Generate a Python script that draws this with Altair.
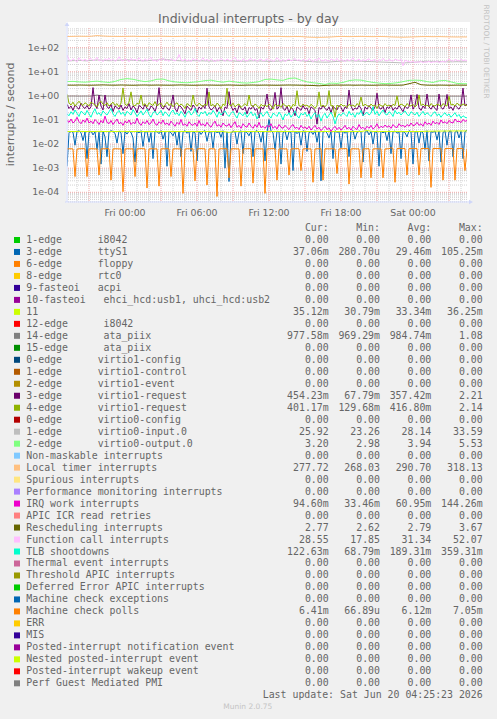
import json
import altair as alt
import pandas as pd

# ---------------- text ----------------
TITLE = "Individual interrupts - by day"
Y_TITLE = "interrupts / second"
WATERMARK = "RRDTOOL / TOBI OETIKER"
LAST_UPDATE = "Last update: Sat Jun 20 04:25:23 2026"
MUNIN = "Munin 2.0.75"
X_TICK_MIN = [0, 360, 720, 1080, 1440]
X_TICK_LABELS = ["Fri 00:00", "Fri 06:00", "Fri 12:00", "Fri 18:00", "Sat 00:00"]
Y_TICKS = [1e-4, 1e-3, 1e-2, 1e-1, 1e0, 1e1, 1e2]
Y_TICK_LABELS = ["1e-04", "1e-03", "1e-02", "1e-01", "1e+00", "1e+01", "1e+02"]
HEADERS = ["Cur:  ", "Min:  ", "Avg:  ", "Max:  "]

# time in minutes relative to Fri 00:00
T10 = list(range(-290, 1711, 10))
T30 = list(range(-290, 1721, 30))

# ---------------- series (10-min samples) ----------------
TTYS1_m = [1.2, 28, 34, 31, 9, 33, 36, 30, 14, 32,
           2.5, 30, 35, 24, 33, 6, 31, 1.5, 34, 20,
           3.0, 32, 36, 33, 28, 11, 35, 30, 4.0, 33,
           26, 35, 31, 18, 1.8, 34, 29, 36, 8, 32,
           34, 12, 30, 2.5, 35, 33, 27, 36, 16, 31,
           1.2, 34, 30, 22, 35, 9, 33, 3, 31, 36,
           28, 34, 5, 33, 30, 2.0, 35, 25, 33, 36,
           13, 31, 34, 7, 35, 30, 33, 19, 36, 1.0,
           32, 0.2807, 27, 35, 33, 10, 31, 36, 4, 34,
           30, 22, 35, 3, 33, 36, 28, 12, 34, 2.0,
           31, 105.25, 35, 30, 6, 34, 33, 1.5, 29, 36,
           15, 33, 31, 0.8, 35, 27, 34, 9, 36, 32,
           5, 30, 34, 25, 36, 12, 33, 0.3, 31, 35,
           29, 18, 34, 2.5, 36, 31, 33, 7, 35, 28,
           34, 3, 32, 36, 16, 30, 35, 33, 1.8, 31,
           36, 24, 34, 10, 33, 30, 1.2, 35, 29, 34,
           14, 36, 4, 32, 35, 28, 33, 2.5, 34, 30,
           20, 36, 33, 1.5, 31, 35, 11, 34, 29, 6,
           36, 2.0, 33, 31, 35, 15, 34, 1.8, 30, 36,
           9, 33, 35, 3, 31, 36, 18, 34, 2.5, 33,
           37.06]

VREQ3_m = [450, 300, 380, 250, 420, 330, 280, 500, 350, 300,
           400, 280, 350, 2210, 420, 300, 1090, 380, 260, 1090,
           350, 300, 450, 220, 380, 330, 280, 420, 250, 350,
           300, 480, 260, 380, 320, 200, 400, 350, 280, 450,
           300, 250, 380, 330, 220, 420, 2200, 350, 280, 400,
           320, 250, 380, 1090, 300, 220, 400, 350, 260, 180,
           380, 300, 250, 420, 330, 200, 350, 280, 400, 300,
           2100, 350, 260, 300, 400, 220, 330, 280, 150, 350,
           300, 1500, 380, 250, 320, 200, 400, 300, 260, 350,
           180, 330, 280, 400, 250, 300, 120, 350, 280, 400,
           1200, 300, 250, 380, 1400, 280, 350, 2200, 300, 250,
           380, 200, 330, 280, 150, 350, 300, 250, 400, 280,
           320, 180, 350, 300, 250, 67.79, 330, 280, 400, 300,
           250, 350, 200, 380, 300, 260, 400, 330, 220, 350,
           300, 1760, 380, 250, 320, 280, 400, 300, 150, 350,
           280, 400, 300, 250, 350, 1300, 320, 280, 380, 200,
           350, 300, 420, 250, 330, 280, 400, 300, 220, 380,
           300, 350, 1100, 280, 400, 1150, 320, 250, 380, 300,
           1200, 350, 280, 400, 300, 250, 1200, 330, 280, 400,
           1150, 300, 350, 250, 420, 330, 280, 400, 2100, 380,
           454.23]

VREQ4_m = [1170, 500, 420, 550, 380, 480, 600, 450, 400, 520,
           450, 380, 550, 480, 420, 350, 500, 600, 450, 400,
           520, 380, 460, 550, 400, 480, 350, 500, 2140, 450,
           400, 550, 1470, 420, 380, 500, 450, 1090, 400, 480,
           350, 520, 450, 400, 580, 380, 460, 500, 350, 420,
           550, 400, 480, 350, 450, 520, 380, 460, 400, 300,
           480, 420, 350, 1090, 450, 380, 500, 420, 360, 460,
           400, 1470, 380, 450, 350, 500, 420, 300, 460, 400,
           2100, 450, 380, 500, 350, 420, 460, 330, 400, 480,
           380, 1090, 420, 350, 460, 400, 300, 450, 380, 420,
           350, 460, 400, 280, 450, 380, 420, 330, 480, 400,
           360, 420, 300, 450, 380, 1650, 400, 350, 460, 380,
           420, 330, 450, 380, 300, 400, 1470, 360, 420, 350,
           450, 1650, 380, 400, 129.68, 420, 350, 460, 380, 400,
           330, 450, 380, 420, 350, 480, 400, 900, 380, 450,
           400, 350, 460, 380, 420, 300, 450, 400, 360, 480,
           380, 420, 350, 450, 400, 1000, 380, 460, 420, 350,
           480, 400, 380, 450, 350, 420, 1100, 400, 460, 380,
           420, 350, 480, 400, 380, 450, 420, 360, 480, 400,
           380, 950, 420, 450, 380, 500, 420, 400, 460, 420,
           401.17]

IRQWORK_m = [95, 80, 110, 75, 90, 130, 85, 70, 100, 80,
             120, 75, 90, 70, 105, 85, 65, 95, 75, 144.26,
             80, 70, 95, 65, 85, 110, 70, 80, 60, 90,
             75, 100, 65, 80, 70, 120, 75, 60, 85, 70,
             95, 65, 75, 110, 70, 60, 85, 70, 100, 65,
             75, 60, 90, 70, 55, 80, 65, 105, 60, 70,
             55, 85, 65, 60, 75, 55, 95, 60, 70, 55,
             80, 60, 50, 70, 90, 55, 65, 50, 75, 60,
             55, 70, 48, 65, 85, 50, 60, 45, 70, 55,
             50, 75, 55, 45, 65, 50, 80, 48, 55, 45,
             60, 50, 70, 45, 55, 42, 65, 50, 45, 60,
             48, 40, 55, 65, 45, 50, 40, 60, 45, 52,
             42, 55, 38, 48, 60, 42, 50, 36, 45, 55,
             40, 48, 33.46, 45, 55, 40, 50, 38, 46, 60,
             42, 50, 38, 55, 45, 40, 65, 44, 50, 40,
             55, 45, 60, 42, 50, 70, 45, 55, 48, 62,
             50, 58, 45, 65, 52, 48, 70, 55, 60, 50,
             65, 55, 75, 58, 62, 80, 60, 70, 55, 85,
             65, 75, 60, 90, 70, 80, 65, 100, 75, 85,
             70, 95, 80, 75, 110, 85, 90, 78, 105, 88,
             94.60]

CALL = [50, 32, 28, 35, 30, 26, 38, 31, 29, 34,
        27, 33, 36, 29, 31, 40, 28, 32, 26, 35,
        30, 37, 29, 33, 27, 31, 42, 30, 28, 34,
        32, 26, 36, 30, 33, 28, 38, 31, 27, 35,
        29, 33, 40, 28, 31, 26, 34, 30, 37, 29,
        32, 27, 35, 30, 28, 33, 52.07, 31, 29, 34,
        28, 32, 26, 36, 30, 33, 27, 31, 38, 29,
        33, 28, 35, 30, 26, 32, 29, 36, 31, 27,
        34, 30, 28, 33, 40, 29, 31, 26, 35, 30,
        28, 32, 36, 29, 33, 27, 31, 34, 28, 30,
        35, 29, 32, 27, 30, 38, 31, 28, 33, 26,
        31, 34, 28, 30, 36, 29, 32, 27, 33, 30,
        28, 35, 31, 26, 33, 29, 37, 30, 28, 32,
        30, 27, 34, 31, 29, 36, 28, 32, 30, 26,
        33, 29, 31, 38, 28, 30, 34, 27, 32, 29,
        31, 35, 28, 30, 33, 26, 32, 29, 36, 30,
        28, 32, 30, 27, 34, 31, 29, 33, 17.85, 30,
        28, 26, 25, 27, 24, 26, 25, 27, 24, 26,
        25, 27, 24, 26, 25, 28, 24, 26, 27, 25,
        29, 34, 30, 27, 32, 30, 28, 33, 29, 31,
        28.55]

TLB_m = [180, 150, 220, 170, 260, 190, 140, 230, 200, 160,
         250, 180, 130, 210, 290, 170, 200, 150, 240, 190,
         160, 220, 300, 180, 140, 200, 250, 170, 210, 150,
         230, 190, 160, 270, 200, 140, 180, 240, 160, 210,
         280, 170, 130, 200, 230, 160, 190, 250, 150, 220,
         180, 140, 210, 260, 170, 200, 150, 230, 180, 130,
         200, 240, 160, 190, 300, 170, 140, 210, 180, 230,
         150, 200, 170, 250, 190, 130, 220, 160, 200, 240,
         170, 140, 190, 230, 160, 120, 200, 180, 150, 210,
         130, 170, 220, 150, 190, 110, 160, 200, 140, 180,
         230, 150, 120, 190, 170, 140, 210, 160, 100, 180,
         150, 200, 130, 170, 240, 150, 120, 190, 160, 210,
         140, 180, 110, 160, 200, 130, 170, 90, 150, 190,
         120, 160, 210, 140, 68.79, 130, 180, 150, 200, 170,
         140, 230, 160, 190, 130, 200, 170, 250, 150, 180,
         210, 160, 190, 359.31, 170, 230, 150, 200, 260, 180,
         160, 220, 190, 140, 250, 180, 210, 160, 200, 240,
         170, 150, 220, 190, 160, 210, 140, 180, 230, 160,
         200, 170, 140, 190, 220, 150, 180, 130, 170, 200,
         150, 180, 130, 160, 200, 140, 170, 120, 150, 130,
         122.63]

MCP_m = [6.3, 6.4, 6.4, 6.3, 0.45, 6.2, 6.4, 6.4, 6.5, 6.4,
         0.45, 6.3, 6.4, 6.4, 6.3, 6.4, 0.52, 6.3, 6.4, 6.4,
         6.5, 6.4, 0.32, 6.3, 6.4, 6.4, 6.3, 6.4, 0.106, 6.2,
         6.4, 6.4, 6.3, 6.4, 0.45, 6.3, 6.4, 6.5, 6.4, 6.4,
         0.15, 6.3, 6.4, 6.4, 6.3, 6.4, 0.18, 6.3, 6.4, 6.4,
         6.5, 6.4, 0.45, 6.3, 6.4, 6.4, 6.3, 6.4, 0.09, 6.2,
         6.4, 6.4, 6.3, 6.4, 0.30, 6.3, 6.4, 6.5, 6.4, 6.4,
         0.20, 6.3, 6.4, 6.4, 6.3, 0.06689, 6.3, 6.4, 6.4, 6.5,
         6.4, 0.40, 6.3, 6.4, 6.4, 6.3, 6.4, 0.18, 6.3, 6.4,
         6.4, 6.5, 6.4, 0.24, 6.3, 6.4, 6.4, 6.3, 6.4, 0.09,
         6.3, 6.4, 6.4, 6.5, 6.4, 0.32, 6.3, 6.4, 6.4, 6.3,
         6.4, 0.52, 6.3, 6.4, 6.4, 6.5, 6.4, 0.80, 6.3, 6.4,
         6.4, 6.3, 6.4, 0.26, 6.3, 6.4, 6.4, 6.5, 0.32, 6.4,
         6.4, 6.3, 6.4, 6.4, 6.3, 0.60, 6.3, 6.4, 6.4, 6.5,
         6.4, 0.22, 6.3, 6.4, 6.4, 6.3, 6.4, 0.40, 6.3, 6.4,
         6.4, 6.5, 0.40, 6.3, 6.4, 6.4, 6.3, 6.4, 0.40, 6.3,
         6.4, 6.4, 7.05, 6.6, 0.26, 6.5, 6.6, 6.6, 6.5, 6.6,
         0.52, 6.5, 6.6, 6.6, 6.5, 6.6, 0.52, 6.5, 6.6, 6.6,
         6.6, 6.5, 0.16, 6.6, 6.6, 6.5, 6.6, 6.6, 0.32, 6.5,
         6.6, 6.6, 6.5, 6.6, 0.32, 6.6, 6.5, 6.6, 6.6, 0.80,
         6.41]

# ---------------- series (30-min samples) ----------------
IRQ11_m = [33.5, 33.2, 33.6, 33.4, 33.1, 33.7, 33.3, 33.5, 33.2, 33.8,
           33.4, 33.1, 33.6, 33.3, 33.5, 33.0, 33.4, 33.7, 33.2, 33.5,
           33.3, 33.6, 33.1, 33.4, 33.2, 33.5, 33.3, 30.79, 33.4, 33.6,
           33.2, 33.5, 33.3, 33.1, 33.4, 33.6, 33.2, 33.5, 33.3, 33.0,
           33.4, 33.2, 33.5, 33.3, 33.6, 33.1, 33.4, 33.2, 33.5, 33.3,
           36.25, 33.4, 33.2, 33.5, 33.3, 33.6, 33.1, 33.4, 33.2, 33.5,
           34.0, 34.3, 34.6, 34.8, 35.0, 35.1, 35.0, 35.12]

ATA14_m = [985, 990, 982, 988, 984, 1080, 992, 986, 983, 987,
           985, 990, 982, 984, 988, 986, 983, 985, 989, 984,
           982, 986, 988, 983, 985, 987, 982, 984, 986, 989,
           983, 985, 981, 987, 984, 986, 982, 985, 988, 983,
           980, 975, 969.29, 974, 982, 986, 984, 987, 983, 985,
           982, 980, 984, 986, 983, 981, 985, 990, 995, 986,
           983, 981, 984, 982, 980, 979, 978, 977.58]

V0IN = [28, 29, 30, 28.5, 29.5, 31, 30, 28.8, 29.2, 30.5,
        31.5, 30, 29, 28.5, 29.8, 31, 33.59, 31.5, 29.5, 28.5,
        28, 29, 28.6, 28.2, 27.8, 28.4, 29, 28.5, 27.6, 27.2,
        27.8, 28.5, 28, 27.4, 27, 27.5, 28.2, 29.5, 30, 28.5,
        27, 26.2, 25.5, 25, 25.8, 27, 28, 28.6, 28, 27.5,
        26.8, 26.2, 25.6, 25, 24.5, 24, 23.26, 24, 25, 26.5,
        27.2, 27, 26.5, 26, 25.8, 26.2, 26, 25.92]

V0OUT = [3.9, 4.0, 3.8, 3.7, 3.9, 4.1, 3.8, 3.6, 4.0, 4.8,
         5.2, 4.9, 4.3, 3.9, 4.2, 4.9, 5.0, 4.2, 3.8, 3.6,
         3.5, 3.7, 3.9, 4.3, 4.5, 4.0, 3.7, 4.1, 3.8, 3.5,
         3.4, 3.6, 3.9, 4.8, 5.0, 4.6, 4.4, 5.3, 5.53, 4.5,
         3.8, 3.5, 3.3, 2.98, 3.4, 3.3, 3.6, 4.3, 4.6, 4.5,
         4.0, 3.6, 3.4, 3.2, 3.3, 3.5, 3.9, 4.4, 4.5, 4.4,
         3.9, 3.6, 4.2, 4.4, 3.8, 3.3, 3.2, 3.2]

LOCAL = [292, 295, 300, 296, 298, 318.13, 305, 296, 294, 292,
         295, 298, 293, 291, 296, 300, 297, 293, 290, 295,
         298, 294, 291, 296, 293, 290, 295, 292, 289, 294,
         291, 288, 293, 290, 292, 295, 290, 287, 292, 289,
         276, 270, 268.03, 272, 278, 290, 293, 288, 291, 294,
         290, 287, 292, 289, 280, 275, 272, 276, 282, 288,
         290, 286, 289, 284, 280, 278, 279, 277.72]

RESCHED = [2.80, 2.78, 2.82, 2.79, 2.77, 2.81, 2.85, 2.80, 2.78, 2.83,
           2.79, 2.76, 2.80, 2.82, 2.78, 2.81, 2.79, 2.77, 2.80, 2.84,
           2.79, 2.76, 2.78, 2.81, 2.80, 2.77, 2.79, 2.82, 2.78, 2.75,
           2.79, 2.81, 2.77, 2.80, 2.78, 2.76, 2.79, 2.82, 2.80, 2.77,
           2.74, 2.70, 2.62, 2.72, 2.78, 2.80, 2.79, 2.81, 2.77, 2.80,
           2.78, 2.76, 2.79, 2.81, 2.78, 2.77, 2.80, 3.20, 3.67, 2.90,
           2.79, 2.77, 2.80, 2.78, 2.76, 2.79, 2.78, 2.77]

# drawing order = munin field order
PLOT_SERIES = [
    ("3-edge ttyS1", "#0066B3", T10, TTYS1_m, 1e-3),
    ("11", "#CCFF00", T30, IRQ11_m, 1e-3),
    ("14-edge ata_piix", "#808080", T30, ATA14_m, 1e-3),
    ("3-edge virtio1-request", "#6B006B", T10, VREQ3_m, 1e-3),
    ("4-edge virtio1-request", "#8FB300", T10, VREQ4_m, 1e-3),
    ("1-edge virtio0-input.0", "#BEBEBE", T30, V0IN, 1.0),
    ("2-edge virtio0-output.0", "#80FF80", T30, V0OUT, 1.0),
    ("Local timer interrupts", "#FFC080", T30, LOCAL, 1.0),
    ("IRQ work interrupts", "#EE00CC", T10, IRQWORK_m, 1e-3),
    ("Rescheduling interrupts", "#666600", T30, RESCHED, 1.0),
    ("Function call interrupts", "#FFBFFF", T10, CALL, 1.0),
    ("TLB shootdowns", "#00FFCC", T10, TLB_m, 1e-3),
    ("Machine check polls", "#FF8000", T10, MCP_m, 1e-3),
]

# ---------------- legend ----------------
LEGEND_LABELS = [
    "1-edge      i8042", "3-edge      ttyS1", "6-edge      floppy", "8-edge      rtc0",
    "9-fasteoi   acpi", "10-fasteoi   ehci_hcd:usb1, uhci_hcd:usb2", "11",
    "12-edge      i8042", "14-edge      ata_piix", "15-edge      ata_piix",
    "0-edge      virtio1-config", "1-edge      virtio1-control", "2-edge      virtio1-event",
    "3-edge      virtio1-request", "4-edge      virtio1-request", "0-edge      virtio0-config",
    "1-edge      virtio0-input.0", "2-edge      virtio0-output.0",
    "Non-maskable interrupts", "Local timer interrupts", "Spurious interrupts",
    "Performance monitoring interrupts", "IRQ work interrupts", "APIC ICR read retries",
    "Rescheduling interrupts", "Function call interrupts", "TLB shootdowns",
    "Thermal event interrupts", "Threshold APIC interrupts", "Deferred Error APIC interrupts",
    "Machine check exceptions", "Machine check polls", "ERR", "MIS",
    "Posted-interrupt notification event", "Nested posted-interrupt event",
    "Posted-interrupt wakeup event", "Perf Guest Mediated PMI",
]
LEGEND_COLORS = [
    "#00CC00", "#0066B3", "#FF8000", "#FFCC00", "#330099", "#990099", "#CCFF00", "#FF0000",
    "#808080", "#008F00", "#00487D", "#B35A00", "#B38F00", "#6B006B", "#8FB300", "#B30000",
    "#BEBEBE", "#80FF80", "#80C9FF", "#FFC080", "#FFE680", "#AA80FF", "#EE00CC", "#FF8080",
    "#666600", "#FFBFFF", "#00FFCC", "#CC6699", "#999900", "#00CC00", "#0066B3", "#FF8000",
    "#FFCC00", "#330099", "#990099", "#CCFF00", "#FF0000", "#808080",
]
Z = "0.00 "
CUR = [Z, "37.06m", Z, Z, Z, Z, "35.12m", Z, "977.58m", Z, Z, Z, Z, "454.23m", "401.17m", Z,
       "25.92 ", "3.20 ", Z, "277.72 ", Z, Z, "94.60m", Z, "2.77 ", "28.55 ", "122.63m",
       Z, Z, Z, Z, "6.41m", Z, Z, Z, Z, Z, Z]
MIN = [Z, "280.70u", Z, Z, Z, Z, "30.79m", Z, "969.29m", Z, Z, Z, Z, "67.79m", "129.68m", Z,
       "23.26 ", "2.98 ", Z, "268.03 ", Z, Z, "33.46m", Z, "2.62 ", "17.85 ", "68.79m",
       Z, Z, Z, Z, "66.89u", Z, Z, Z, Z, Z, Z]
AVG = [Z, "29.46m", Z, Z, Z, Z, "33.34m", Z, "984.74m", Z, Z, Z, Z, "357.42m", "416.80m", Z,
       "28.14 ", "3.94 ", Z, "290.70 ", Z, Z, "60.95m", Z, "2.79 ", "31.34 ", "189.31m",
       Z, Z, Z, Z, "6.12m", Z, Z, Z, Z, Z, Z]
MAX = [Z, "105.25m", Z, Z, Z, Z, "36.25m", Z, "1.08 ", Z, Z, Z, Z, "2.21 ", "2.14 ", Z,
       "33.59 ", "5.53 ", Z, "318.13 ", Z, Z, "144.26m", Z, "3.67 ", "52.07 ", "359.31m",
       Z, Z, Z, Z, "7.05m", Z, Z, Z, Z, Z, Z]

# ---------------- build ----------------
W, H = 400, 174
FONT_C = "#666666"
NB = lambda s: s.replace(" ", "\u00a0")

xs = alt.Scale(domain=[-290, 1710], nice=False, zero=False)
ys = alt.Scale(type="log", domain=[3.96e-5, 656], nice=False)

hours = list(range(-240, 1681, 60))
minor_x = [h for h in hours if h % 180 != 0]
major_x = [h for h in hours if h % 180 == 0]
major_y = Y_TICKS
minor_y = [m * 10.0 ** e for e in range(-5, 3) for m in range(2, 10)
           if 3.96e-5 <= m * 10.0 ** e <= 656]

one = pd.DataFrame({"s": [""]})

canvas = alt.Chart(one).mark_rect(color="#FFFFFF").encode(
    x=alt.value(-1), x2=alt.value(W + 3), y=alt.value(-6), y2=alt.value(H + 1))

GRID_C = "#D2D2D2"
MGRID_C = "#EEA8A8"

gx_minor = alt.Chart(pd.DataFrame({"t": minor_x})).mark_rule(
    color=GRID_C, strokeDash=[1, 1], strokeWidth=1).encode(
    x=alt.X("t:Q", scale=xs, axis=None))
gx_major = alt.Chart(pd.DataFrame({"t": major_x})).mark_rule(
    color=MGRID_C, strokeDash=[1, 1], strokeWidth=1).encode(
    x=alt.X("t:Q", scale=xs, axis=None))
gy_minor = alt.Chart(pd.DataFrame({"v": minor_y})).mark_rule(
    color=GRID_C, strokeDash=[1, 1], strokeWidth=1).encode(
    y=alt.Y("v:Q", scale=ys, axis=None))
gy_major = alt.Chart(pd.DataFrame({"v": major_y})).mark_rule(
    color=MGRID_C, strokeDash=[1, 1], strokeWidth=1).encode(
    y=alt.Y("v:Q", scale=ys, axis=None))

# tick labels drawn through the scales
x_labels = alt.Chart(pd.DataFrame({"t": X_TICK_MIN, "lab": X_TICK_LABELS})).mark_text(
    font="DejaVu Sans", fontSize=9.4, color=FONT_C, align="center", baseline="middle").encode(
    x=alt.X("t:Q", scale=xs, axis=None), y=alt.value(H + 10.7), text="lab:N")
y_labels = alt.Chart(pd.DataFrame({"v": Y_TICKS, "lab": Y_TICK_LABELS})).mark_text(
    font="DejaVu Sans", fontSize=9.4, color=FONT_C, align="right", baseline="middle").encode(
    y=alt.Y("v:Q", scale=ys, axis=None), x=alt.value(-7.7), text="lab:N")

series_layers = []
for name, color, times, vals, mult in PLOT_SERIES:
    d = pd.DataFrame({"t": times[:len(vals)], "v": [v * mult for v in vals]})
    series_layers.append(
        alt.Chart(d).mark_line(color=color, strokeWidth=1, clip=True).encode(
            x=alt.X("t:Q", scale=xs, axis=None),
            y=alt.Y("v:Q", scale=ys, axis=None)))

AXIS_C = "#CFD6F8"
axis_lines = [
    alt.Chart(one).mark_rule(color=AXIS_C, strokeWidth=1).encode(
        x=alt.value(0), y=alt.value(-4), y2=alt.value(H)),
    alt.Chart(one).mark_rule(color=AXIS_C, strokeWidth=1).encode(
        x=alt.value(-2), x2=alt.value(W + 2), y=alt.value(H)),
    alt.Chart(one).mark_point(shape="triangle-up", filled=True, color=AXIS_C, size=22, opacity=1).encode(
        x=alt.value(0), y=alt.value(-4)),
    alt.Chart(one).mark_point(shape="triangle-right", filled=True, color=AXIS_C, size=22, opacity=1).encode(
        x=alt.value(W + 4), y=alt.value(H)),
]

plot = alt.layer(canvas, gx_minor, gy_minor, gx_major, gy_major, *series_layers, *axis_lines,
                 x_labels, y_labels)

# legend table
rows = [{"row": 0, "label": "", "color": "#FFFFFF",
         "cur": NB(HEADERS[0]), "min": NB(HEADERS[1]), "avg": NB(HEADERS[2]), "max": NB(HEADERS[3])}]
for i, lab in enumerate(LEGEND_LABELS):
    rows.append({"row": i + 1, "label": NB(lab), "color": LEGEND_COLORS[i],
                 "cur": NB(CUR[i]), "min": NB(MIN[i]), "avg": NB(AVG[i]), "max": NB(MAX[i])})
rows.append({"row": 39, "label": "", "color": "#FFFFFF",
             "cur": "", "min": "", "avg": "", "max": NB(LAST_UPDATE)})
ldf = pd.DataFrame(rows)
ly = alt.Y("row:Q", scale=alt.Scale(domain=[0, 39], range=[200.0, 667.3]), axis=None)
mono = dict(font="DejaVu Sans Mono", fontSize=9.9, color=FONT_C, baseline="middle")
lbase = alt.Chart(ldf)
legend = alt.layer(
    lbase.transform_filter("datum.row > 0 && datum.row < 39").mark_square(size=36, opacity=1).encode(
        x=alt.value(-50), y=ly, color=alt.Color("color:N", scale=None, legend=None)),
    lbase.mark_text(align="left", **mono).encode(x=alt.value(-40.7), y=ly, text="label:N"),
    lbase.mark_text(align="right", **mono).encode(x=alt.value(261.7), y=ly, text="cur:N"),
    lbase.mark_text(align="right", **mono).encode(x=alt.value(313.0), y=ly, text="min:N"),
    lbase.mark_text(align="right", **mono).encode(x=alt.value(364.3), y=ly, text="avg:N"),
    lbase.mark_text(align="right", **mono).encode(x=alt.value(415.7), y=ly, text="max:N"),
)

texts = [
    alt.Chart(pd.DataFrame({"s": [TITLE]})).mark_text(
        font="DejaVu Sans", fontSize=12.5, color=FONT_C, align="center", baseline="middle").encode(
        x=alt.value(181.5), y=alt.value(-9), text="s:N"),
    alt.Chart(pd.DataFrame({"s": [Y_TITLE]})).mark_text(
        font="DejaVu Sans", fontSize=11, color=FONT_C, align="center", baseline="middle", angle=270).encode(
        x=alt.value(-56), y=alt.value(86.4), text="s:N"),
    alt.Chart(pd.DataFrame({"s": [WATERMARK]})).mark_text(
        font="DejaVu Sans", fontSize=7.3, color="#C4C4C4", align="center", baseline="middle", angle=90).encode(
        x=alt.value(419), y=alt.value(23.5), text="s:N"),
    alt.Chart(pd.DataFrame({"s": [MUNIN]})).mark_text(
        font="DejaVu Sans", fontSize=7.5, color="#C4C4C4", align="center", baseline="middle").encode(
        x=alt.value(180.8), y=alt.value(679.3), text="s:N"),
]

chart = alt.layer(plot, legend, *texts).resolve_scale(y="independent").properties(
    width=W, height=H,
    autosize=alt.AutoSizeParams(type="none"),
    padding={"left": 67, "top": 28, "right": 497 - 67 - W, "bottom": 719 - 28 - H},
    background="#F0F0F0",
).configure_view(stroke=None, fill=None)

chart.save("out.html", embed_options={"renderer": "svg", "actions": False})
